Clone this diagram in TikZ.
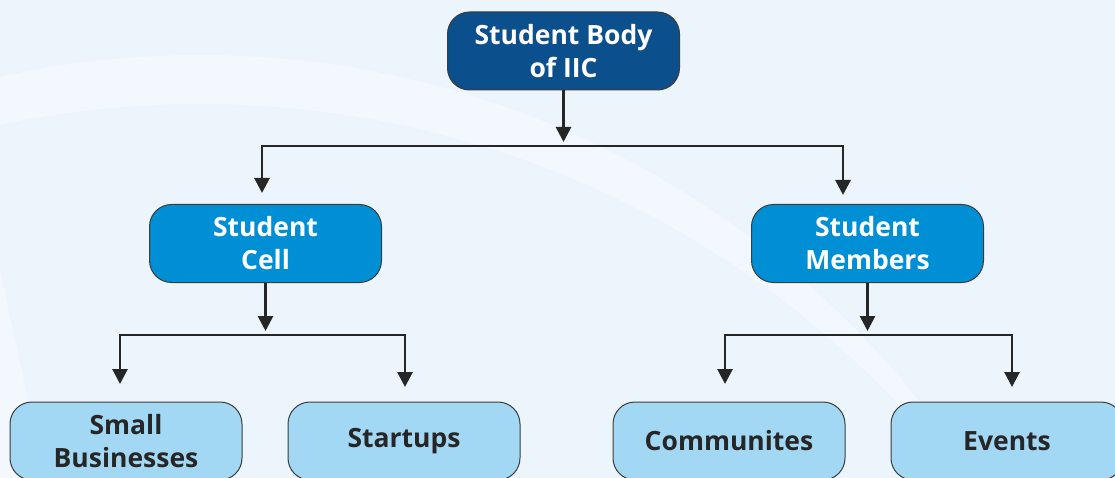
\documentclass[tikz,border=0pt]{standalone}
\usepackage{fontspec}
\setmainfont{Open Sans}
\usetikzlibrary{arrows.meta}
\definecolor{bgbase}{RGB}{237,245,252}
\definecolor{bglight}{RGB}{242,248,254}
\definecolor{topblue}{RGB}{11,79,140}
\definecolor{midblue}{RGB}{0,143,212}
\definecolor{lowblue}{RGB}{163,216,244}
\definecolor{ink}{RGB}{38,38,38}
\tikzset{
  box/.style={draw=ink!90, line width=1pt, rounded corners=22pt, minimum width=232pt, minimum height=78pt, align=center, font=\fontsize{26.5}{33}\selectfont\bfseries, inner sep=0pt},
  topbox/.style={box, fill=topblue, text=white},
  midbox/.style={box, fill=midblue, text=white},
  lowbox/.style={box, fill=lowblue, text=ink},
  link/.style={draw=ink, line width=2.8pt},
  arr/.style={link, -{Triangle[length=15pt,width=15pt]}}
}
\begin{document}
\begin{tikzpicture}[x=1pt,y=-1pt]
\useasboundingbox (0,0) rectangle (1115,478);
\begin{scope}
\clip (0,0) rectangle (1115,478);
\fill[bgbase] (0,0) rectangle (1115,478);
\fill[bglight, even odd rule] (200,975) circle[radius=920] (200,1067) circle[radius=963];
\fill[bglight] (0,270) -- (45,478) -- (0,478) -- cycle;
% nodes
\node[topbox] (top) at (563.5,51) {Student Body\\of IIC};
\node[midbox] (cell) at (265.5,243.5) {Student\\Cell};
\node[midbox] (mem) at (867.5,243.5) {Student\\Members};
\node[lowbox] (sb) at (126,441) {Small\\Businesses};
\node[lowbox] (st) at (404,441) {Startups};
\node[lowbox] (co) at (729,441) {Communites};
\node[lowbox] (ev) at (1007,441) {Events};
% junction coordinates
\coordinate (a1) at (563.5,142);
\coordinate (h1l) at (262,146);
\coordinate (h1r) at (843,146);
\coordinate (t1l) at (262,193);
\coordinate (t1r) at (843,195);
\coordinate (a2) at (265.5,331);
\coordinate (h2l) at (120,335);
\coordinate (h2r) at (405,335);
\coordinate (t2l) at (120,384);
\coordinate (t2r) at (405,387);
\coordinate (a3) at (867.5,331);
\coordinate (h3l) at (725,335);
\coordinate (h3r) at (1012,335);
\coordinate (t3l) at (725,384);
\coordinate (t3r) at (1012,387);
% connectors
\draw[arr] (top.south) -- (a1);
\draw[arr] (h1r) -- (h1l) -- (t1l);
\draw[arr] (h1l) -- (h1r) -- (t1r);
\draw[arr] (cell.south) -- (a2);
\draw[arr] (h2r) -- (h2l) -- (t2l);
\draw[arr] (h2l) -- (h2r) -- (t2r);
\draw[arr] (mem.south) -- (a3);
\draw[arr] (h3r) -- (h3l) -- (t3l);
\draw[arr] (h3l) -- (h3r) -- (t3r);
\end{scope}
\end{tikzpicture}
\end{document}
